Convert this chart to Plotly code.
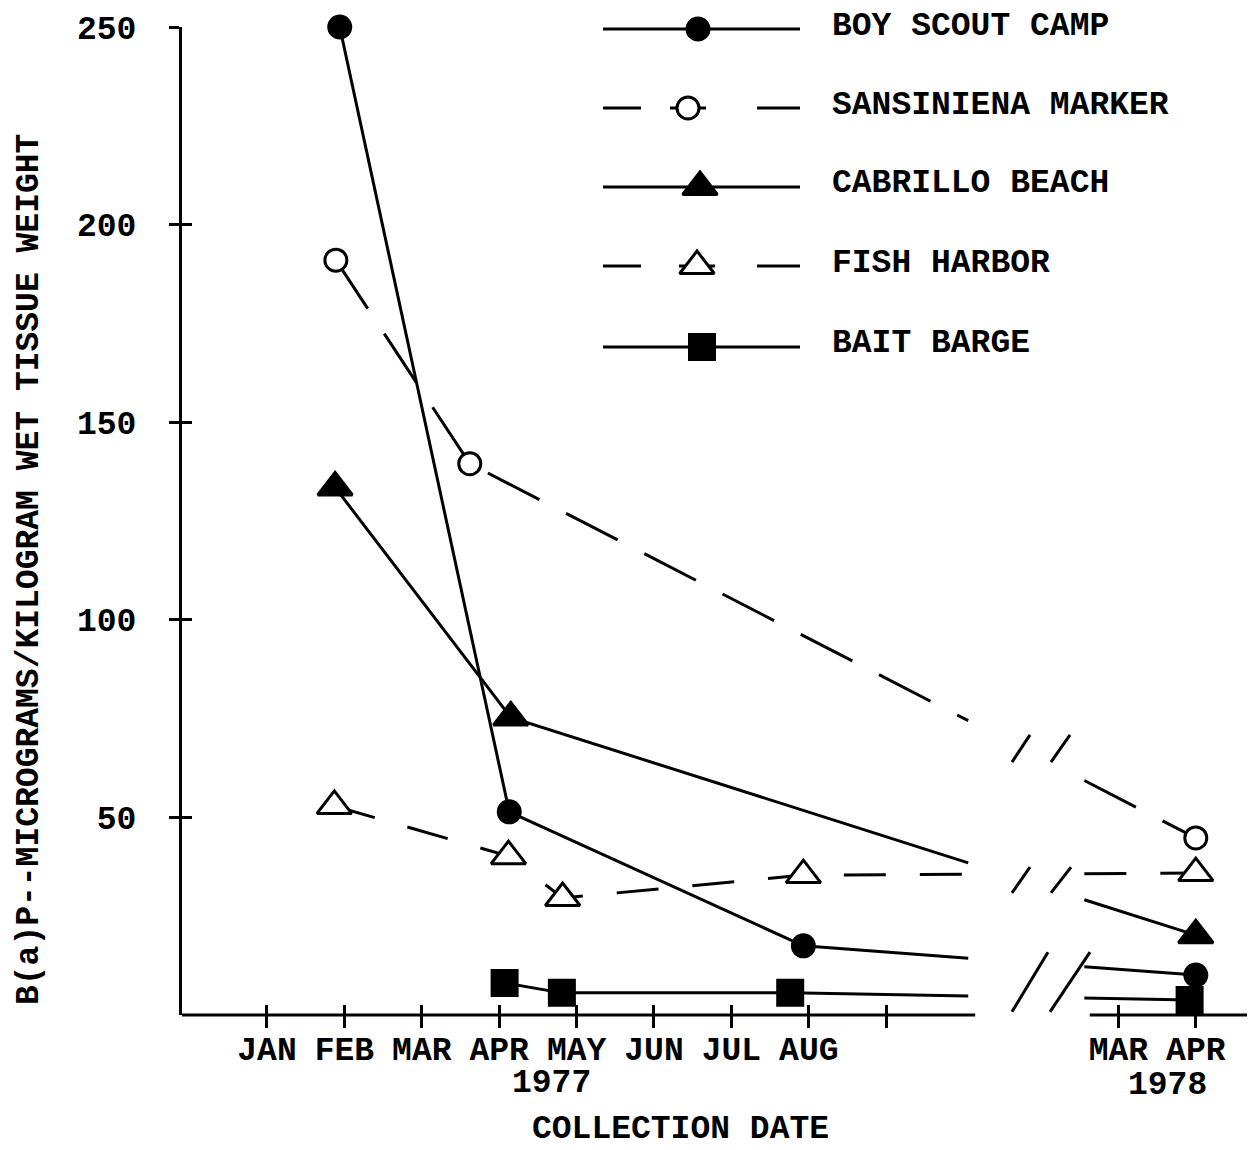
import plotly.graph_objects as go

# ---------------- data (x in month units: 1 = JAN 1977 ... 9 = SEP 1977; 12 = MAR 1978, 13 = APR 1978)
month_tickvals = [1, 2, 3, 4, 5, 6, 7, 8, 9, 12, 13]
month_ticktext = ["JAN", "FEB", "MAR", "APR", "MAY", "JUN", "JUL", "AUG", "", "MAR", "APR"]
y_tickvals = [50, 100, 150, 200, 250]
y_ticktext = ["50", "100", "150", "200", "250"]

series_names = ["BOY SCOUT CAMP", "SANSINIENA MARKER", "CABRILLO BEACH", "FISH HARBOR", "BAIT BARGE"]

boy_scout_x = [1.94, 4.13, 7.93, 13.0]
boy_scout_y = [250, 51.4, 17.5, 10.1]

sansiniena_x = [1.89, 3.62, 13.0]
sansiniena_y = [191, 139.5, 44.8]

cabrillo_x = [1.88, 4.15, 13.0]
cabrillo_y = [133.5, 75.3, 20.2]

fish_x = [1.87, 4.12, 4.82, 7.93, 13.0]
fish_y = [52.9, 40.2, 29.6, 35.4, 35.9]

bait_x = [4.07, 4.81, 7.76, 12.92]
bait_y = [8.1, 5.6, 5.6, 3.8]

# ---------------- styling
FONT = "Liberation Mono"
FS = 33
INK = "black"
X_RANGE = [-0.098, 13.765]
Y_RANGE = [0, 250]
LINE_BREAK = (10.06, 11.56)   # gap in the data lines
AXIS_BREAK = (10.15, 11.63)   # gap in the x axis line

# page geometry (the page body adds an 8px margin)
W, H = 1247, 1142
ML, MR, MT, MB = 174, 0, 19, 135
PLOT_L, PLOT_T = 8 + ML, 8 + MT
PLOT_W, PLOT_H = W - ML - MR, H - MT - MB


def paper_x(px):
    return (px - PLOT_L) / PLOT_W


def paper_y(py):
    return (PLOT_T + PLOT_H - py) / PLOT_H


def txt(s):
    return "<b>" + s + "</b>"


styles = [
    dict(dash="solid", symbol="circle", size=22, fill=INK),
    dict(dash="58px,30px", symbol="circle", size=22, fill="white"),
    dict(dash="solid", symbol="triangle-up", size=30, fill=INK),
    dict(dash="42px,34px", symbol="triangle-up", size=30, fill="white"),
    dict(dash="solid", symbol="square", size=25, fill=INK),
]
data = [(boy_scout_x, boy_scout_y), (sansiniena_x, sansiniena_y), (cabrillo_x, cabrillo_y),
        (fish_x, fish_y), (bait_x, bait_y)]


def broken_path(xs, ys, lo, hi):
    px, py = [], []
    for i in range(len(xs)):
        if i > 0 and xs[i - 1] < lo and xs[i] > hi:
            x0, y0, x1, y1 = xs[i - 1], ys[i - 1], xs[i], ys[i]
            f = lambda x: y0 + (y1 - y0) * (x - x0) / (x1 - x0)
            px += [lo, None, hi]
            py += [f(lo), None, f(hi)]
        px.append(xs[i])
        py.append(ys[i])
    return px, py


fig = go.Figure()

# lines (with the axis-break gap)
for (xs, ys), st, name in zip(data, styles, series_names):
    px, py = broken_path(xs, ys, *LINE_BREAK)
    fig.add_trace(go.Scatter(x=px, y=py, mode="lines", name=name, showlegend=False,
                             line=dict(color=INK, width=3, dash=st["dash"]),
                             connectgaps=False, hoverinfo="skip"))
# markers on top
for (xs, ys), st, name in zip(data, styles, series_names):
    fig.add_trace(go.Scatter(x=xs, y=ys, mode="markers", name=name, showlegend=False,
                             cliponaxis=False,
                             marker=dict(symbol=st["symbol"], size=st["size"], color=st["fill"],
                                         line=dict(color=INK, width=3))))

# dummy trace so the tick-overlay axes are drawn
fig.add_trace(go.Scatter(x=[], y=[], xaxis="x2", yaxis="y2", showlegend=False))

# ---------------- custom legend (page-pixel coordinates on hidden overlay axes x3/y3)
legend_rows_y = [29, 108, 187, 266, 347]
legend_marker_x = [698, 688, 700, 697, 702]
for i, (st, name) in enumerate(zip(styles, series_names)):
    yy = legend_rows_y[i]
    if st["dash"] == "solid":
        lx, ly = [603, 800], [yy, yy]
    else:
        mx = legend_marker_x[i]
        lx = [603, 641, None, mx - 18, mx + 18, None, 757, 800]
        ly = [yy, yy, None, yy, yy, None, yy, yy]
    fig.add_trace(go.Scatter(x=lx, y=ly, mode="lines", xaxis="x3", yaxis="y3", showlegend=False,
                             line=dict(color=INK, width=3), hoverinfo="skip"))
    fig.add_trace(go.Scatter(x=[legend_marker_x[i]], y=[yy], mode="markers", xaxis="x3", yaxis="y3",
                             showlegend=False, cliponaxis=False,
                             marker=dict(symbol=st["symbol"], size=st["size"], color=st["fill"],
                                         line=dict(color=INK, width=3))))
    fig.add_annotation(x=paper_x(830), y=paper_y(yy - 3), xref="paper", yref="paper", text=txt(name),
                       showarrow=False, xanchor="left", yanchor="middle",
                       font=dict(family=FONT, size=FS, color=INK))

# ---------------- x axis line (broken) and break marks
for x0, x1 in [(X_RANGE[0], AXIS_BREAK[0]), (AXIS_BREAK[1], X_RANGE[1])]:
    fig.add_shape(type="line", xref="x", yref="paper", x0=x0, x1=x1, y0=0, y1=0,
                  line=dict(color=INK, width=3))

break_marks = [
    (10.625, 64.0, 10.858, 70.9), (11.129, 64.0, 11.375, 70.9),
    (10.625, 30.9, 10.858, 37.4), (11.129, 30.9, 11.388, 37.4),
    (10.625, 0.8, 11.09, 15.9), (11.116, 0.8, 11.633, 15.9),
]
for x0, y0, x1, y1 in break_marks:
    fig.add_shape(type="line", xref="x", yref="y", x0=x0, y0=y0, x1=x1, y1=y1,
                  line=dict(color=INK, width=3))

# ---------------- text
fig.add_annotation(x=4.67, y=paper_y(1083), xref="x", yref="paper", text=txt("1977"), showarrow=False,
                   xanchor="center", yanchor="middle", font=dict(family=FONT, size=FS, color=INK))
fig.add_annotation(x=12.63, y=paper_y(1085), xref="x", yref="paper", text=txt("1978"), showarrow=False,
                   xanchor="center", yanchor="middle", font=dict(family=FONT, size=FS, color=INK))
fig.add_annotation(x=paper_x(680), y=paper_y(1129), xref="paper", yref="paper",
                   text=txt("COLLECTION DATE"),
                   showarrow=False, xanchor="center", yanchor="middle",
                   font=dict(family=FONT, size=FS, color=INK))
fig.add_annotation(x=paper_x(30), y=paper_y(570), xref="paper", yref="paper",
                   text=txt("B(a)P--MICROGRAMS/KILOGRAM WET TISSUE WEIGHT"), textangle=-90,
                   showarrow=False, xanchor="center", yanchor="middle",
                   font=dict(family=FONT, size=FS, color=INK))

fig.update_layout(
    width=W, height=H,
    margin=dict(l=ML, r=MR, t=MT, b=MB, autoexpand=False),
    paper_bgcolor="white", plot_bgcolor="white",
    font=dict(family=FONT, size=FS, color=INK),
    showlegend=False,
    xaxis=dict(range=X_RANGE, showline=False, zeroline=False, showgrid=False,
               tickmode="array", tickvals=month_tickvals, ticktext=[txt(t) if t else t for t in month_ticktext],
               ticks="outside", ticklen=12, tickwidth=3, tickcolor=INK,
               tickfont=dict(family=FONT, size=FS, color=INK), ticklabelstandoff=-8),
    yaxis=dict(range=Y_RANGE, showline=True, linewidth=3, linecolor=INK, zeroline=False,
               showgrid=False, tickmode="array", tickvals=y_tickvals, ticktext=[txt(t) for t in y_ticktext],
               ticks="outside", ticklen=10, tickwidth=3, tickcolor=INK,
               tickfont=dict(family=FONT, size=FS, color=INK), ticklabelstandoff=26),
    xaxis2=dict(overlaying="x", anchor="y", range=X_RANGE, showline=False, zeroline=False,
                showgrid=False, tickmode="array", tickvals=month_tickvals, ticks="inside",
                ticklen=10, tickwidth=3, tickcolor=INK, showticklabels=False, side="bottom"),
    yaxis2=dict(overlaying="y", anchor="x", range=Y_RANGE, showline=False, zeroline=False,
                showgrid=False, tickmode="array", tickvals=y_tickvals, ticks="inside",
                ticklen=10, tickwidth=3, tickcolor=INK, showticklabels=False, side="left"),
    xaxis3=dict(overlaying="x", anchor="y3", range=[PLOT_L, PLOT_L + PLOT_W], visible=False),
    yaxis3=dict(overlaying="y", anchor="x3", range=[PLOT_T + PLOT_H, PLOT_T], visible=False),
)

fig.write_html("out.html")
